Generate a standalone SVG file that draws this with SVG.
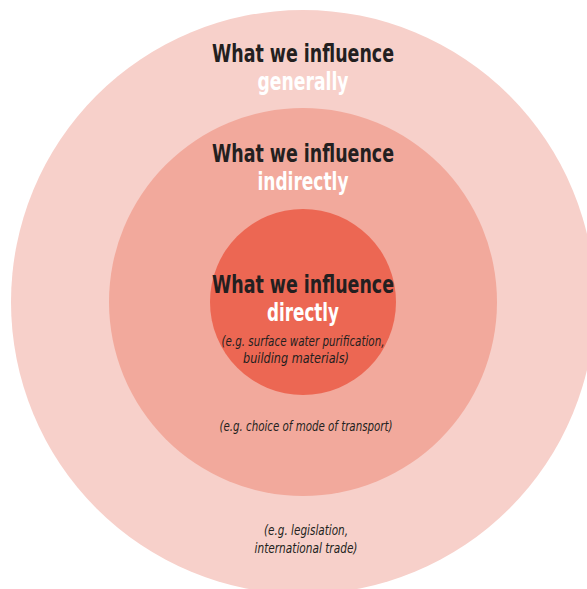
<svg xmlns="http://www.w3.org/2000/svg" width="587" height="589" viewBox="0 0 587 589">
<style>
.t{font-family:"Liberation Sans Narrow","DejaVu Sans Condensed","Liberation Sans",sans-serif;text-anchor:middle}
.h{font-size:24px;font-weight:bold;fill:#231f20}
.w{font-size:24px;font-weight:bold;fill:#ffffff}
.e{font-size:14.5px;font-style:italic;fill:#231f20}
</style>
<rect width="587" height="589" fill="#ffffff"/>
<g id="outer">
<circle cx="303" cy="302" r="292" fill="#f7d0ca"/>
<text class="t h" x="303" y="62" textLength="182" lengthAdjust="spacingAndGlyphs">What we influence</text>
<text class="t w" x="303" y="90" textLength="91" lengthAdjust="spacingAndGlyphs">generally</text>
<text class="t e" x="306" y="535" textLength="84" lengthAdjust="spacingAndGlyphs">(e.g. legislation,</text>
<text class="t e" x="306" y="553" textLength="103" lengthAdjust="spacingAndGlyphs">international trade)</text>
</g>
<g id="middle">
<circle cx="303" cy="302" r="194" fill="#f2a99c"/>
<text class="t h" x="303" y="162" textLength="182" lengthAdjust="spacingAndGlyphs">What we influence</text>
<text class="t w" x="303" y="190" textLength="91" lengthAdjust="spacingAndGlyphs">indirectly</text>
<text class="t e" x="306" y="431" textLength="173" lengthAdjust="spacingAndGlyphs">(e.g. choice of mode of transport)</text>
</g>
<g id="inner">
<circle cx="303" cy="302" r="93" fill="#ec6753"/>
<text class="t h" x="303" y="293" textLength="182" lengthAdjust="spacingAndGlyphs">What we influence</text>
<text class="t w" x="303" y="321" textLength="72" lengthAdjust="spacingAndGlyphs">directly</text>
<text class="t e" x="303" y="346" textLength="163" lengthAdjust="spacingAndGlyphs">(e.g. surface water purification,</text>
<text class="t e" x="296" y="363" textLength="106" lengthAdjust="spacingAndGlyphs">building materials)</text>
</g>
</svg>
